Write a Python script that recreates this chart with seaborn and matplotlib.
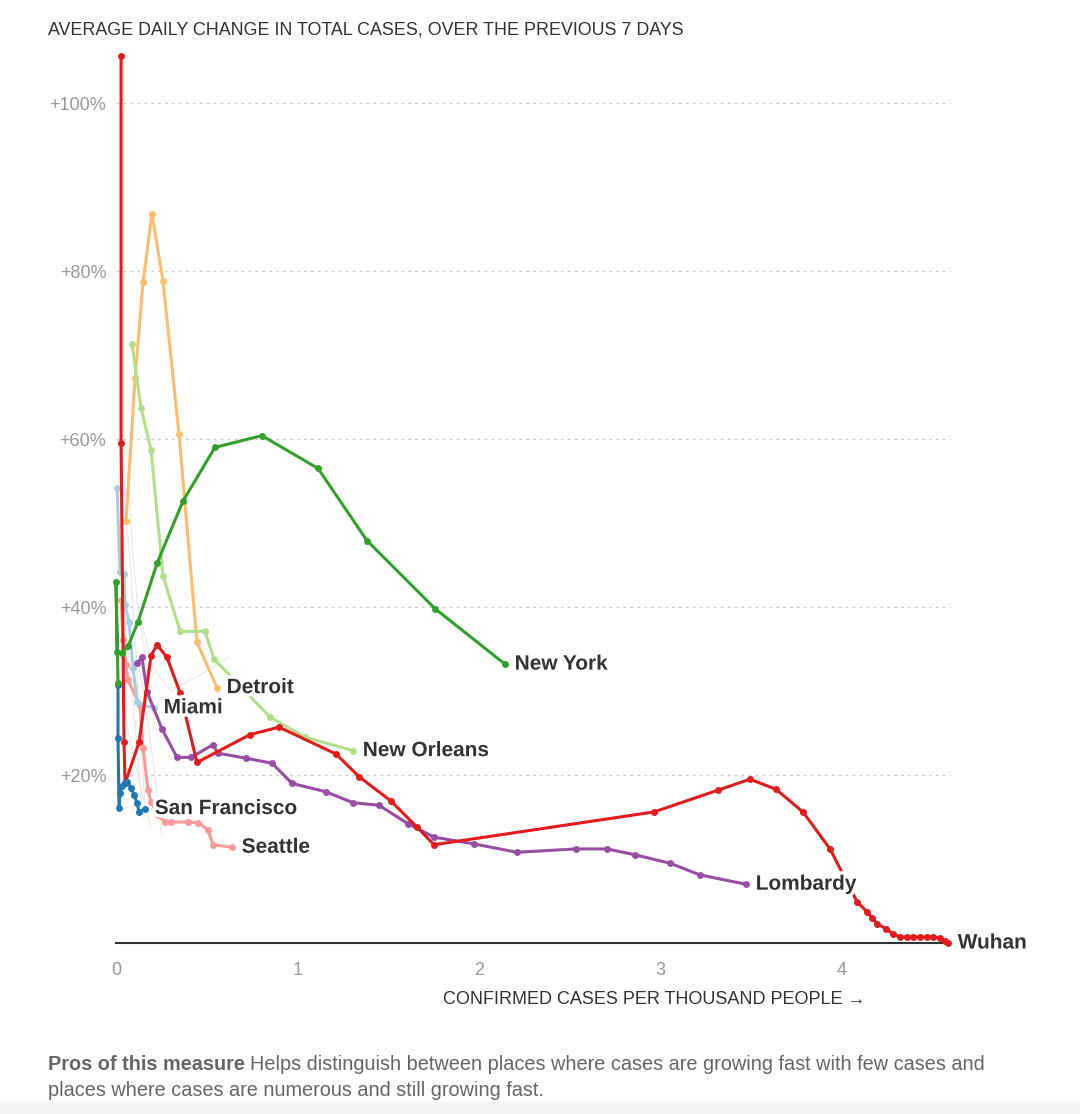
import matplotlib
matplotlib.use("Agg")
import matplotlib.pyplot as plt
import matplotlib.patheffects as pe
import seaborn as sns

sns.set_style("white")
plt.rcParams['font.family'] = ['Liberation Sans', 'DejaVu Sans']

# confirmed cases per thousand people (x) and average daily change in % (y)
wuhan_x = [0.028, 0.028, 0.044, 0.050, 0.127, 0.193, 0.226, 0.281, 0.353, 0.446,
           0.738, 0.898, 1.212, 1.339, 1.515, 1.658, 1.752, 2.964, 3.317, 3.493,
           3.636, 3.785, 3.934, 4.083, 4.138, 4.165, 4.193, 4.242, 4.281, 4.320,
           4.358, 4.391, 4.430, 4.468, 4.501, 4.540, 4.567, 4.584]
wuhan_y = [105.6, 59.5, 23.9, 19.0, 23.9, 34.2, 35.5, 34.0, 29.8, 21.5,
           24.8, 25.7, 22.5, 19.8, 16.9, 13.8, 11.7, 15.6, 18.2, 19.5,
           18.3, 15.6, 11.2, 4.9, 3.7, 3.0, 2.3, 1.7, 1.1, 0.7,
           0.7, 0.7, 0.7, 0.7, 0.7, 0.6, 0.2, 0.0]

lombardy_x = [0.116, 0.143, 0.171, 0.253, 0.336, 0.413, 0.534, 0.562, 0.716, 0.860,
              0.970, 1.157, 1.306, 1.449, 1.609, 1.752, 1.972, 2.209, 2.534, 2.705,
              2.860, 3.052, 3.218, 3.471]
lombardy_y = [33.3, 34.0, 29.9, 25.5, 22.1, 22.1, 23.6, 22.6, 22.0, 21.4,
              19.0, 18.0, 16.7, 16.4, 14.2, 12.6, 11.8, 10.8, 11.2, 11.2,
              10.5, 9.5, 8.1, 7.0]

new_york_x = [0.011, 0.000, 0.006, 0.033, 0.066, 0.121, 0.226, 0.369, 0.545, 0.804,
              1.113, 1.383, 1.758, 2.143]
new_york_y = [31.0, 43.0, 34.6, 34.5, 35.3, 38.2, 45.2, 52.6, 59.0, 60.4,
              56.5, 47.9, 39.8, 33.2]

detroit_x = [0.055, 0.105, 0.149, 0.198, 0.259, 0.347, 0.446, 0.556]
detroit_y = [50.2, 67.3, 78.7, 86.8, 78.8, 60.6, 35.8, 30.4]

new_orleans_x = [0.088, 0.138, 0.193, 0.259, 0.353, 0.490, 0.540, 0.848, 1.041, 1.306]
new_orleans_y = [71.3, 63.7, 58.7, 43.7, 37.1, 37.1, 33.8, 26.9, 24.5, 22.9]

miami_x = [0.006, 0.022, 0.044, 0.050, 0.072, 0.094, 0.116, 0.149, 0.209]
miami_y = [54.2, 44.2, 43.9, 40.2, 38.2, 32.7, 28.7, 28.3, 28.0]

san_francisco_x = [0.011, 0.011, 0.017, 0.022, 0.033, 0.050, 0.060, 0.083, 0.099, 0.116,
                   0.127, 0.160]
san_francisco_y = [30.7, 24.4, 16.1, 17.9, 18.7, 19.0, 19.2, 18.5, 17.6, 16.7,
                   15.6, 16.0]

seattle_x = [0.028, 0.039, 0.055, 0.066, 0.132, 0.149, 0.176, 0.193, 0.231, 0.270,
             0.303, 0.397, 0.452, 0.507, 0.534, 0.639]
seattle_y = [40.8, 36.1, 33.1, 31.3, 28.3, 23.2, 18.2, 16.8, 15.2, 14.4,
             14.4, 14.4, 14.3, 13.5, 11.7, 11.4]

# faint lines for other places
others = [
    ([0.05, 0.08, 0.10, 0.13, 0.16], [52, 45, 38, 27, 16]),
    ([0.12, 0.20, 0.30, 0.47, 0.62], [40, 33, 30, 32, 34]),
    ([0.02, 0.05, 0.09, 0.12, 0.15], [46, 38, 30, 22, 15]),
    ([0.10, 0.15, 0.19, 0.22, 0.25], [36, 30, 24, 19, 13]),
    ([0.03, 0.06, 0.10, 0.14, 0.19], [30, 26, 22, 18, 14]),
    ([0.07, 0.09, 0.12, 0.17, 0.21], [55, 47, 40, 33, 26]),
]

x_ticks = [0, 1, 2, 3, 4]
y_ticks = [20, 40, 60, 80, 100]
y_tick_labels = ["+20%", "+40%", "+60%", "+80%", "+100%"]

pal = sns.color_palette("Paired")
places = [
    ("Seattle", seattle_x, seattle_y, pal[4]),
    ("Miami", miami_x, miami_y, pal[0]),
    ("Detroit", detroit_x, detroit_y, pal[6]),
    ("New Orleans", new_orleans_x, new_orleans_y, pal[2]),
    ("Lombardy", lombardy_x, lombardy_y, "#984ea3"),
    ("Wuhan", wuhan_x, wuhan_y, "#e41a1c"),
    ("San Francisco", san_francisco_x, san_francisco_y, pal[1]),
    ("New York", new_york_x, new_york_y, pal[3]),
]

fig = plt.figure(figsize=(10.8, 11.14), dpi=100)
ax = fig.add_axes([116 / 1080, 1 - 943 / 1114, 4.6 * 181.5 / 1080, 107 * 8.4 / 1114])

for xs, ys in others:
    sns.lineplot(x=xs, y=ys, sort=False, estimator=None, color="#ebebeb",
                 linewidth=1, ax=ax)

for name, xs, ys, col in places:
    sns.lineplot(x=xs, y=ys, sort=False, estimator=None, color=col, linewidth=2.2,
                 marker="o", markersize=5, markeredgewidth=0, ax=ax)
    ax.annotate(name, xy=(xs[-1], ys[-1]), xytext=(7, 0), textcoords="offset points",
                va="center", ha="left", fontsize=15, fontweight="bold",
                color="#333333",
                path_effects=[pe.withStroke(linewidth=5, foreground="white")])

for line in ax.lines:
    line.set_clip_on(False)

ax.set_xlim(0, 4.6)
ax.set_ylim(0, 107)
ax.set_xticks(x_ticks)
ax.set_xticklabels([str(t) for t in x_ticks])
ax.set_yticks(y_ticks)
ax.set_yticklabels(y_tick_labels)
ax.yaxis.grid(True, color="#cccccc", linestyle=(0, (2, 3)), linewidth=1)
ax.set_axisbelow(True)
ax.tick_params(axis="y", length=0, pad=7, labelsize=13, labelcolor="#999999")
ax.tick_params(axis="x", length=6, width=1, color="#999999", pad=8,
               labelsize=13, labelcolor="#999999")
for s in ["top", "right", "left"]:
    ax.spines[s].set_visible(False)
ax.spines["bottom"].set_color("#333333")
ax.spines["bottom"].set_linewidth(1.5)
ax.spines["bottom"].set_bounds(0, 4.58)
ax.spines["bottom"].set_zorder(1)
ax.set_xlabel("")
ax.set_ylabel("")

fig.text(48 / 1080, 1 - 30 / 1114, "AVERAGE DAILY CHANGE IN TOTAL CASES, OVER THE PREVIOUS 7 DAYS",
         fontsize=12.9, color="#333333", va="center", ha="left")
fig.text(654 / 1080, 1 - 1000 / 1114, "CONFIRMED CASES PER THOUSAND PEOPLE \u2192",
         fontsize=13, color="#333333", va="center", ha="center")

t1 = fig.text(48 / 1080, 1 - 1065 / 1114, "Pros of this measure", fontsize=14.3,
              fontweight="bold", color="#666666", va="center", ha="left")
ax.annotate("Helps distinguish between places where cases are growing fast with few cases and",
            xy=(1, 0), xycoords=t1, xytext=(4, 0), textcoords="offset points",
            fontsize=14.3, color="#666666", va="bottom", ha="left",
            annotation_clip=False)
fig.text(48 / 1080, 1 - 1091 / 1114, "places where cases are numerous and still growing fast.",
         fontsize=14.3, color="#666666", va="center", ha="left")

fig.patches.append(plt.Rectangle((0, 0), 1, 12 / 1114, transform=fig.transFigure,
                                 color="#f4f4f4", zorder=0))

fig.savefig("out.png", dpi=100)
